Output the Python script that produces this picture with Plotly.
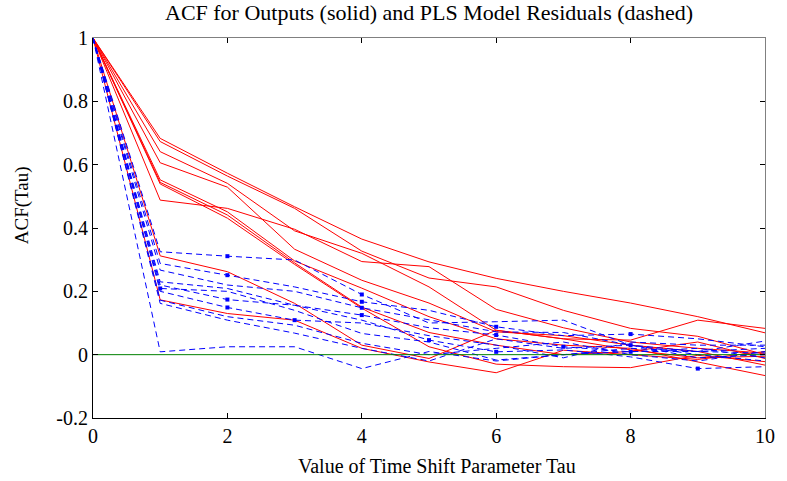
import plotly.graph_objects as go

# ---- data ----
tau = [0, 1, 2, 3, 4, 5, 6, 7, 8, 9, 10]

# ACF of outputs (solid red)
red_1 = [1, 0.683, 0.573, 0.467, 0.365, 0.293, 0.241, 0.200, 0.163, 0.120, 0.069]
red_2 = [1, 0.673, 0.564, 0.462, 0.327, 0.242, 0.214, 0.140, 0.083, 0.058, 0.000]
red_3 = [1, 0.641, 0.541, 0.391, 0.320, 0.214, 0.077, 0.050, 0.046, 0.109, 0.083]
red_4 = [1, 0.606, 0.529, 0.333, 0.235, 0.163, 0.072, 0.060, 0.030, 0.010, -0.033]
red_5 = [1, 0.552, 0.451, 0.296, 0.210, 0.120, 0.050, 0.030, 0.020, -0.023, -0.066]
red_6 = [1, 0.544, 0.441, 0.290, 0.150, 0.070, 0.030, 0.000, 0.010, 0.040, -0.012]
red_7 = [1, 0.539, 0.431, 0.285, 0.147, 0.025, -0.030, -0.038, -0.041, -0.002, -0.022]
red_8 = [1, 0.488, 0.462, 0.396, 0.294, 0.278, 0.143, 0.085, 0.040, 0.020, 0.005]
red_9 = [1, 0.312, 0.262, 0.162, 0.030, -0.012, 0.077, 0.050, 0.015, -0.010, -0.005]
red_10 = [1, 0.173, 0.130, 0.109, 0.020, -0.023, -0.057, 0.014, 0.000, -0.015, 0.010]

# ACF of PLS model residuals (dashed blue)
blue_1 = [1, 0.325, 0.311, 0.299, 0.190, 0.100, 0.104, 0.109, 0.030, 0.010, 0.043]
blue_2 = [1, 0.288, 0.251, 0.214, 0.167, 0.140, 0.088, 0.060, 0.065, 0.050, 0.025]
blue_3 = [1, 0.267, 0.220, 0.200, 0.148, 0.110, 0.072, 0.070, 0.030, -0.010, 0.000]
blue_4 = [1, 0.230, 0.209, 0.156, 0.125, 0.085, 0.062, 0.025, 0.009, 0.020, -0.010]
blue_5 = [1, 0.220, 0.174, 0.156, 0.109, 0.046, 0.009, 0.015, -0.007, -0.044, -0.038]
blue_6 = [1, 0.209, 0.200, 0.140, 0.067, 0.040, -0.017, 0.000, 0.020, 0.010, 0.020]
blue_7 = [1, 0.200, 0.149, 0.109, 0.100, 0.060, 0.030, -0.010, 0.040, 0.030, 0.030]
blue_8 = [1, 0.172, 0.120, 0.093, 0.036, 0.000, 0.020, 0.040, 0.000, -0.020, 0.010]
blue_9 = [1, 0.162, 0.109, 0.068, 0.020, -0.020, 0.050, 0.020, 0.030, 0.000, -0.020]
blue_10 = [1, 0.009, 0.025, 0.025, -0.044, 0.010, -0.020, 0.000, 0.010, 0.010, 0.005]

# indices (tau) at which small square points are visible on the dashed curves
blue_1_points = [2, 4]
blue_2_points = [2, 4, 6, 8]
blue_3_points = [4, 8]
blue_4_points = [4, 6, 7, 8]
blue_5_points = [2, 5, 6, 9]
blue_6_points = [1]
blue_7_points = [2, 3]

zero_x = [0, 10]
zero_y = [0, 0]

x_tickvals = [0, 2, 4, 6, 8, 10]
x_ticktext = ["0", "2", "4", "6", "8", "10"]
y_tickvals = [-0.2, 0, 0.2, 0.4, 0.6, 0.8, 1]
y_ticktext = ["-0.2", "0", "0.2", "0.4", "0.6", "0.8", "1"]

title_text = "ACF for Outputs (solid) and PLS Model Residuals (dashed)"
x_title = "Value of Time Shift Parameter Tau"
y_title = "ACF(Tau)"

red_series = [red_1, red_2, red_3, red_4, red_5, red_6, red_7, red_8, red_9, red_10]
blue_series = [blue_1, blue_2, blue_3, blue_4, blue_5, blue_6, blue_7, blue_8, blue_9, blue_10]
blue_points = [blue_1_points, blue_2_points, blue_3_points, blue_4_points,
               blue_5_points, blue_6_points, blue_7_points, [], [], []]

FONT = "Liberation Serif, Times New Roman, serif"

fig = go.Figure()
for ys in red_series:
    fig.add_trace(go.Scatter(x=tau, y=ys, mode="lines",
                             line=dict(color="#ff0000", width=1),
                             showlegend=False, hoverinfo="skip"))
for ys, pts in zip(blue_series, blue_points):
    fig.add_trace(go.Scatter(x=tau, y=ys, mode="lines",
                             line=dict(color="#0000ff", width=1, dash="6px,4px"),
                             showlegend=False, hoverinfo="skip"))
    if pts:
        fig.add_trace(go.Scatter(x=[tau[i] for i in pts], y=[ys[i] for i in pts],
                                 mode="markers",
                                 marker=dict(symbol="square", size=4, color="#0000ff",
                                             line=dict(width=0)),
                                 showlegend=False, hoverinfo="skip"))
fig.add_trace(go.Scatter(x=zero_x, y=zero_y, mode="lines",
                         line=dict(color="#008000", width=1),
                         showlegend=False, hoverinfo="skip"))
# helper trace for top/right frame axes
fig.add_trace(go.Scatter(x=[None], y=[None], xaxis="x2", yaxis="y2",
                         showlegend=False, hoverinfo="skip"))

axis_common = dict(showgrid=False, zeroline=False, ticks="inside", ticklen=5,
                   tickwidth=1, tickcolor="#000000", showline=True, linewidth=1)

fig.update_layout(
    width=787, height=481,
    margin=dict(l=93, r=14, t=38, b=63),
    paper_bgcolor="white", plot_bgcolor="white",
    font=dict(family=FONT, size=20, color="black"),
    xaxis=dict(range=[0, 10], tickvals=x_tickvals, ticktext=x_ticktext,
               linecolor="#000000", tickfont=dict(family=FONT, size=20, color="black"),
               **axis_common),
    yaxis=dict(range=[-0.2, 1], tickvals=y_tickvals, ticktext=y_ticktext,
               linecolor="#000000", tickfont=dict(family=FONT, size=20, color="black"),
               **axis_common),
    xaxis2=dict(range=[0, 10], overlaying="x", side="top", tickvals=x_tickvals,
                showticklabels=False, linecolor="#808080", **axis_common),
    yaxis2=dict(range=[-0.2, 1], overlaying="y", side="right", tickvals=y_tickvals,
                showticklabels=False, linecolor="#808080", **axis_common),
    annotations=[
        dict(text=title_text, xref="paper", yref="paper", x=0.5, y=1, yshift=26,
             showarrow=False, xanchor="center", yanchor="middle",
             font=dict(family=FONT, size=22, color="black")),
        dict(text=x_title, xref="paper", yref="paper", x=0.5, y=0, yshift=-48,
             xshift=8, showarrow=False, xanchor="center", yanchor="middle",
             font=dict(family=FONT, size=20, color="black")),
        dict(text=y_title, xref="paper", yref="paper", x=0, y=0.56, xshift=-71,
             textangle=-90, showarrow=False, xanchor="center", yanchor="middle",
             font=dict(family=FONT, size=19, color="black")),
    ],
)

fig.write_html("out.html")
